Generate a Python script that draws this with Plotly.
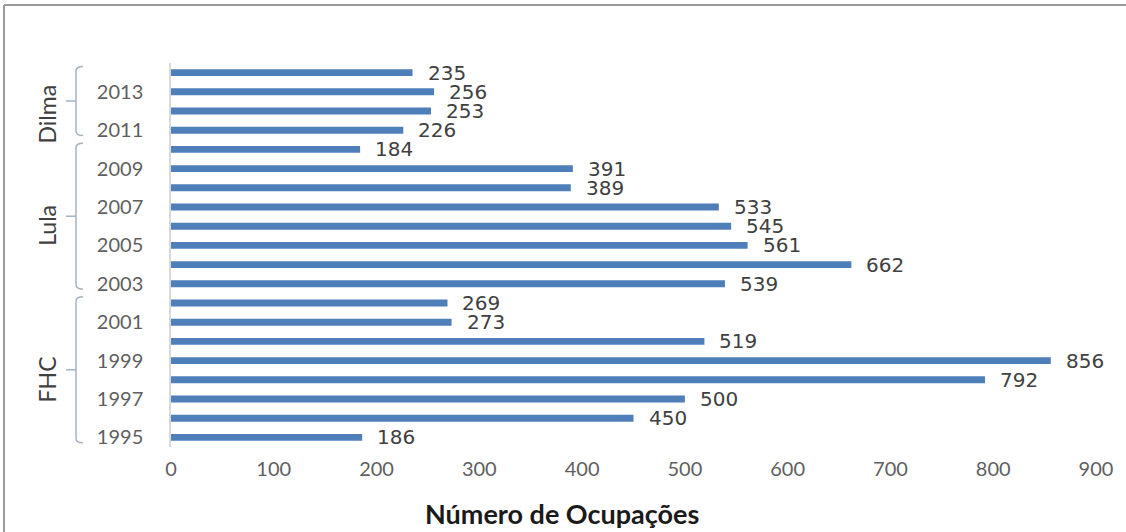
import plotly.graph_objects as go

years = list(range(1995, 2015))
ocupacoes = [186, 450, 500, 792, 856, 519, 273, 269, 539, 662,
             561, 545, 533, 389, 391, 184, 226, 253, 256, 235]
tick_years = list(range(1995, 2015, 2))
tick_labels = [str(y) for y in tick_years]
x_ticks = list(range(0, 1000, 100))
groups = ["FHC", "Lula", "Dilma"]
group_start = [1995, 2003, 2011]
group_end = [2002, 2010, 2014]
x_title = "Número de Ocupações"

W, H = 1126, 532
ML, MR, MT, MB = 171, 30, 63, 85
PW = W - ML - MR
PH = H - MT - MB
Y0, Y1 = 1994.5, 2014.5

BAR_COLOR = "#4f7fb9"
TXT = "#5f5f5f"
BR_COLOR = "#a3b2c6"


def px_x(p):
    return (p - ML) / PW


def px_y(p):
    return (H - MB - p) / PH


def yr_to_paper(v):
    return (v - Y0) / (Y1 - Y0)


fig = go.Figure()
fig.add_trace(go.Bar(
    x=ocupacoes, y=years, orientation="h",
    marker=dict(color=BAR_COLOR, line=dict(width=0)),
    width=0.36, hoverinfo="x+y",
))

annotations = []
for v, y in zip(ocupacoes, years):
    annotations.append(dict(
        x=v, y=y, xref="x", yref="y", text=str(v), showarrow=False,
        xanchor="left", yanchor="middle", xshift=13,
        font=dict(family="DejaVu Sans", size=20, color="#404040"),
    ))

shapes = []
xv, xh, xt = px_x(76), px_x(83), px_x(66)
label_offsets = [0.025, 0.025, 0.035]
for name, s, e, off in zip(groups, group_start, group_end, label_offsets):
    top = yr_to_paper(e + 0.32)
    bot = yr_to_paper(s - 0.28)
    mid = (top + bot) / 2
    c = 0.012
    path = (f"M {xh},{top} Q {xv},{top} {xv},{top - c} "
            f"L {xv},{bot + c} Q {xv},{bot} {xh},{bot}")
    shapes.append(dict(type="path", xref="paper", yref="paper", path=path,
                       line=dict(color=BR_COLOR, width=1.5)))
    shapes.append(dict(type="line", xref="paper", yref="paper",
                       x0=xv, x1=xt, y0=mid, y1=mid,
                       line=dict(color=BR_COLOR, width=1.5)))
    annotations.append(dict(
        xref="paper", yref="paper", x=px_x(47), y=mid - off,
        text=name, showarrow=False, textangle=-90,
        xanchor="center", yanchor="middle",
        font=dict(family="Lato", size=23, color="#404040"),
    ))

annotations.append(dict(
    xref="paper", yref="paper", x=px_x(562), y=px_y(513),
    text="<b>" + x_title + "</b>", showarrow=False,
    xanchor="center", yanchor="middle",
    font=dict(family="Lato", size=27, color="#1a1a1a"),
))

# outer frame (top and left edges)
shapes.append(dict(type="line", xref="paper", yref="paper",
                   x0=px_x(4), x1=px_x(1126), y0=px_y(5), y1=px_y(5),
                   line=dict(color="#9c9c9c", width=2)))
shapes.append(dict(type="line", xref="paper", yref="paper",
                   x0=px_x(4), x1=px_x(4), y0=px_y(5), y1=px_y(532),
                   line=dict(color="#9c9c9c", width=2)))

fig.update_layout(
    width=W, height=H,
    margin=dict(l=ML, r=MR, t=MT, b=MB, autoexpand=False),
    paper_bgcolor="white", plot_bgcolor="white",
    showlegend=False, bargap=0.6,
    shapes=shapes, annotations=annotations,
    xaxis=dict(
        range=[0, 900], tickvals=x_ticks, ticktext=[str(t) for t in x_ticks],
        showgrid=False, zeroline=False, showline=False, ticks="",
        automargin=False, ticklabelstandoff=8,
        tickfont=dict(family="Lato", size=20, color=TXT),
    ),
    yaxis=dict(
        range=[Y0, Y1], tickvals=tick_years, ticktext=tick_labels,
        showgrid=False, zeroline=False, showline=True, linecolor="#d9d9d9",
        linewidth=1.5, ticks="", ticklabelstandoff=22, automargin=False,
        tickfont=dict(family="Lato", size=20, color=TXT),
    ),
)

fig.write_html(
    "out.html",
    config={"displayModeBar": False},
    post_script="document.body.style.margin='0';"
                "document.body.style.overflow='hidden';",
)
